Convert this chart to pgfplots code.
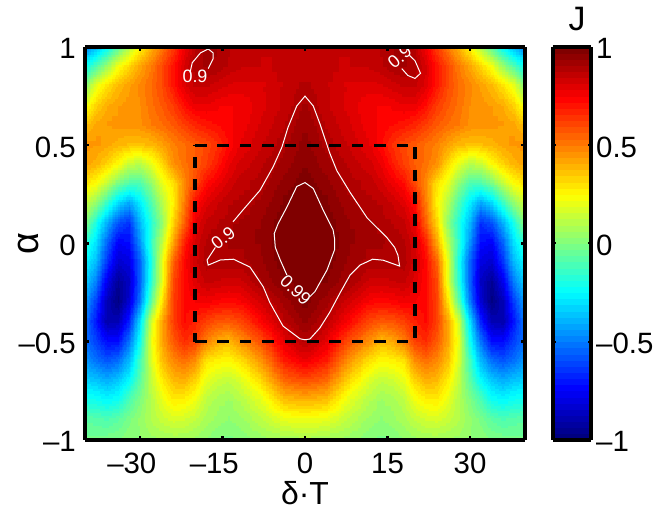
\documentclass[border=0pt]{standalone}
\usepackage{fontspec}
\setmainfont{Liberation Sans}
\usepackage{pgfplots}
\usepackage{pgfplotstable}
\usepgfplotslibrary{patchplots}
\pgfplotsset{compat=1.18}
\pgfplotsset{colormap={jet9}{rgb255(0)=(0,0,128) rgb255(1)=(0,0,255) rgb255(3)=(0,255,255) rgb255(5)=(255,255,0) rgb255(7)=(255,0,0) rgb255(8)=(128,0,0)}}
\pgfplotsset{colormap={jet64}{samples of colormap=(64 of jet9)}}
% J over the left half (the map is mirror symmetric in delta*T)
\pgfplotstableread[row sep=\\]{
x y z\\
-40 1 -.5\\ -38 1 -.4\\ -36 1 -.27\\ -34 1 -.1\\ -32 1 .08\\ -30 1 .25\\ -28 1 .38\\ -26 1 .5\\ -24 1 .62\\ -22 1 .75\\ -20 1 .87\\ -18 1 .92\\ -16 1 .9\\ -14 1 .88\\ -12 1 .86\\ -8 1 .85\\ -4 1 .86\\ 0 1 .86\\
-40 .9 -.25\\ -38 .9 -.1\\ -36 .9 .05\\ -34 .9 .22\\ -32 .9 .32\\ -30 .9 .42\\ -28 .9 .5\\ -26 .9 .6\\ -24 .9 .7\\ -22 .9 .82\\ -20 .9 .9\\ -18 .9 .91\\ -16 .9 .9\\ -14 .9 .87\\ -12 .9 .85\\ -8 .9 .84\\ -4 .9 .86\\ 0 .9 .87\\
-40 .8 0\\ -38 .8 .2\\ -36 .8 .3\\ -34 .8 .38\\ -32 .8 .43\\ -30 .8 .48\\ -28 .8 .53\\ -26 .8 .6\\ -24 .8 .7\\ -22 .8 .8\\ -20 .8 .85\\ -18 .8 .85\\ -16 .8 .83\\ -14 .8 .81\\ -12 .8 .8\\ -8 .8 .81\\ -4 .8 .85\\ 0 .8 .885\\
-40 .7 .2\\ -38 .7 .33\\ -36 .7 .4\\ -34 .7 .43\\ -32 .7 .45\\ -30 .7 .47\\ -28 .7 .52\\ -26 .7 .57\\ -24 .7 .63\\ -22 .7 .72\\ -20 .7 .78\\ -18 .7 .78\\ -16 .7 .76\\ -14 .7 .75\\ -12 .7 .75\\ -8 .7 .8\\ -4 .7 .85\\ 0 .7 .915\\
-40 .6 .36\\ -38 .6 .42\\ -36 .6 .44\\ -34 .6 .45\\ -32 .6 .45\\ -30 .6 .46\\ -28 .6 .5\\ -26 .6 .53\\ -24 .6 .57\\ -22 .6 .62\\ -20 .6 .67\\ -18 .6 .7\\ -16 .6 .72\\ -14 .6 .74\\ -12 .6 .76\\ -8 .6 .82\\ -4 .6 .87\\ 0 .6 .94\\
-40 .5 .45\\ -38 .5 .44\\ -36 .5 .42\\ -34 .5 .39\\ -32 .5 .37\\ -30 .5 .37\\ -28 .5 .38\\ -26 .5 .43\\ -24 .5 .49\\ -22 .5 .53\\ -20 .5 .57\\ -18 .5 .6\\ -16 .5 .65\\ -14 .5 .72\\ -12 .5 .78\\ -8 .5 .84\\ -4 .5 .895\\ 0 .5 .955\\
-40 .4 .43\\ -38 .4 .39\\ -36 .4 .33\\ -34 .4 .25\\ -32 .4 .14\\ -30 .4 .11\\ -28 .4 .2\\ -26 .4 .32\\ -24 .4 .46\\ -22 .4 .52\\ -20 .4 .56\\ -18 .4 .62\\ -16 .4 .69\\ -14 .4 .77\\ -12 .4 .82\\ -8 .4 .87\\ -4 .4 .92\\ 0 .4 .97\\
-40 .3 .3\\ -38 .3 .24\\ -36 .3 .12\\ -34 .3 -.02\\ -32 .3 -.1\\ -30 .3 -.1\\ -28 .3 .03\\ -26 .3 .2\\ -24 .3 .3\\ -22 .3 .47\\ -20 .3 .6\\ -18 .3 .72\\ -16 .3 .77\\ -14 .3 .82\\ -12 .3 .86\\ -8 .3 .89\\ -4 .3 .95\\ 0 .3 .99\\
-40 .2 .15\\ -38 .2 .03\\ -36 .2 -.15\\ -34 .2 -.32\\ -32 .2 -.42\\ -30 .2 -.28\\ -28 .2 -.1\\ -26 .2 .1\\ -24 .2 .27\\ -22 .2 .5\\ -20 .2 .72\\ -18 .2 .8\\ -16 .2 .84\\ -14 .2 .87\\ -12 .2 .88\\ -8 .2 .92\\ -4 .2 .975\\ 0 .2 .995\\
-40 .1 .03\\ -38 .1 -.2\\ -36 .1 -.4\\ -34 .1 -.58\\ -32 .1 -.65\\ -30 .1 -.38\\ -28 .1 -.18\\ -26 .1 .03\\ -24 .1 .33\\ -22 .1 .55\\ -20 .1 .78\\ -18 .1 .85\\ -16 .1 .87\\ -14 .1 .89\\ -12 .1 .91\\ -8 .1 .94\\ -4 .1 .99\\ 0 .1 1\\
-40 0 -.15\\ -38 0 -.3\\ -36 0 -.55\\ -34 0 -.75\\ -32 0 -.72\\ -30 0 -.45\\ -28 0 -.15\\ -26 0 .12\\ -24 0 .42\\ -22 0 .68\\ -20 0 .82\\ -18 0 .88\\ -16 0 .9\\ -14 0 .91\\ -12 0 .92\\ -8 0 .95\\ -4 0 .995\\ 0 0 1\\
-40 -.1 -.25\\ -38 -.1 -.38\\ -36 -.1 -.65\\ -34 -.1 -.83\\ -32 -.1 -.8\\ -30 -.1 -.55\\ -28 -.1 -.2\\ -26 -.1 .2\\ -24 -.1 .55\\ -22 -.1 .73\\ -20 -.1 .83\\ -18 -.1 .89\\ -16 -.1 .895\\ -14 -.1 .895\\ -12 -.1 .89\\ -8 -.1 .93\\ -4 -.1 .99\\ 0 -.1 1\\
-40 -.2 -.33\\ -38 -.2 -.5\\ -36 -.2 -.78\\ -34 -.2 -.94\\ -32 -.2 -.85\\ -30 -.2 -.55\\ -28 -.2 -.17\\ -26 -.2 .2\\ -24 -.2 .6\\ -22 -.2 .72\\ -20 -.2 .8\\ -18 -.2 .85\\ -16 -.2 .84\\ -14 -.2 .83\\ -12 -.2 .83\\ -8 -.2 .91\\ -4 -.2 .97\\ 0 -.2 .997\\
-40 -.3 -.42\\ -38 -.3 -.62\\ -36 -.3 -.88\\ -34 -.3 -.98\\ -32 -.3 -.82\\ -30 -.3 -.5\\ -28 -.3 -.07\\ -26 -.3 .3\\ -24 -.3 .62\\ -22 -.3 .72\\ -20 -.3 .75\\ -18 -.3 .76\\ -16 -.3 .74\\ -14 -.3 .73\\ -12 -.3 .74\\ -8 -.3 .83\\ -4 -.3 .92\\ 0 -.3 .988\\
-40 -.4 -.5\\ -38 -.4 -.7\\ -36 -.4 -.9\\ -34 -.4 -.88\\ -32 -.4 -.68\\ -30 -.4 -.3\\ -28 -.4 .15\\ -26 -.4 .42\\ -24 -.4 .62\\ -22 -.4 .72\\ -20 -.4 .68\\ -18 -.4 .62\\ -16 -.4 .58\\ -14 -.4 .57\\ -12 -.4 .6\\ -8 -.4 .74\\ -4 -.4 .87\\ 0 -.4 .95\\
-40 -.5 -.52\\ -38 -.5 -.62\\ -36 -.5 -.73\\ -34 -.5 -.72\\ -32 -.5 -.52\\ -30 -.5 -.22\\ -28 -.5 .2\\ -26 -.5 .42\\ -24 -.5 .57\\ -22 -.5 .66\\ -20 -.5 .62\\ -18 -.5 .5\\ -16 -.5 .42\\ -14 -.5 .38\\ -12 -.5 .46\\ -8 -.5 .6\\ -4 -.5 .79\\ 0 -.5 .895\\
-40 -.6 -.45\\ -38 -.6 -.52\\ -36 -.6 -.58\\ -34 -.6 -.53\\ -32 -.6 -.38\\ -30 -.6 -.12\\ -28 -.6 .17\\ -26 -.6 .37\\ -24 -.6 .48\\ -22 -.6 .53\\ -20 -.6 .47\\ -18 -.6 .3\\ -16 -.6 .27\\ -14 -.6 .25\\ -12 -.6 .3\\ -8 -.6 .46\\ -4 -.6 .69\\ 0 -.6 .78\\
-40 -.7 -.33\\ -38 -.7 -.36\\ -36 -.7 -.4\\ -34 -.7 -.35\\ -32 -.7 -.25\\ -30 -.7 -.07\\ -28 -.7 .13\\ -26 -.7 .28\\ -24 -.7 .38\\ -22 -.7 .4\\ -20 -.7 .33\\ -18 -.7 .2\\ -16 -.7 .15\\ -14 -.7 .13\\ -12 -.7 .17\\ -8 -.7 .33\\ -4 -.7 .54\\ 0 -.7 .6\\
-40 -.8 -.2\\ -38 -.8 -.22\\ -36 -.8 -.25\\ -34 -.8 -.22\\ -32 -.8 -.1\\ -30 -.8 0\\ -28 -.8 .1\\ -26 -.8 .2\\ -24 -.8 .28\\ -22 -.8 .27\\ -20 -.8 .22\\ -18 -.8 .12\\ -16 -.8 .08\\ -14 -.8 .06\\ -12 -.8 .1\\ -8 -.8 .2\\ -4 -.8 .37\\ 0 -.8 .4\\
-40 -.9 -.07\\ -38 -.9 -.08\\ -36 -.9 -.1\\ -34 -.9 -.07\\ -32 -.9 -.01\\ -30 -.9 .04\\ -28 -.9 .1\\ -26 -.9 .14\\ -24 -.9 .17\\ -22 -.9 .16\\ -20 -.9 .13\\ -18 -.9 .08\\ -16 -.9 .05\\ -14 -.9 .03\\ -12 -.9 .05\\ -8 -.9 .12\\ -4 -.9 .2\\ 0 -.9 .22\\
-40 -1 -.02\\ -38 -1 -.02\\ -36 -1 -.01\\ -34 -1 0\\ -32 -1 .02\\ -30 -1 .03\\ -28 -1 .05\\ -26 -1 .06\\ -24 -1 .07\\ -22 -1 .07\\ -20 -1 .05\\ -18 -1 .03\\ -16 -1 0\\ -14 -1 -.01\\ -12 -1 0\\ -8 -1 .05\\ -4 -1 .07\\ 0 -1 .08\\
}\Jtable
\begin{document}
\begin{tikzpicture}[x=1bp,y=1bp]
\useasboundingbox (0,0) rectangle (656,515);
\begin{axis}[
  at={(85bp,75bp)},anchor=south west,
  scale only axis,width=440bp,height=393bp,
  xmin=-40,xmax=40,ymin=-1,ymax=1,
  view={0}{90},
  colormap name=jet64,
  colormap access=piecewise constant,
  point meta min=-1,point meta max=1,
  axis on top,
  axis line style={line width=3.2bp},
  tick style={line width=2.5bp,black},
  tickwidth=4bp,
  xtick={-30,-15,0,15,30},
  xticklabels={\llap{–}30,\llap{–}15,0,15,30},
  ytick={-1,-0.5,0,0.5,1},
  yticklabels={–1,–0.5,0,0.5,1},
  tick align=inside,
  tick label style={font=\fontsize{29.5}{29.5}\selectfont,inner sep=0pt},
  xticklabel style={anchor=base,yshift=-34bp},
  yticklabel style={anchor=base east,xshift=-9bp,yshift=-12bp},
  xlabel={δ·T},ylabel={α},
  xlabel style={font=\fontsize{32}{32}\selectfont,at={(axis description cs:0.5,0)},anchor=base,inner sep=0pt,yshift=-65bp},
  ylabel style={font=\fontsize{38}{38}\selectfont,at={(axis description cs:0,0.5)},anchor=base,inner sep=0pt,yshift=47bp},
  colorbar,
  colorbar style={
    at={(1.0636,0)},anchor=south west,
    scale only axis,width=38bp,height=393bp,
    ytick={-1,-0.5,0,0.5,1},
    yticklabels={–1,–0.5,0,0.5,1},
    yticklabel pos=right,
    tick align=inside,
    axis line style={line width=3.2bp},
    tick style={line width=2bp,black},
    tickwidth=3bp,
    tick label style={font=\fontsize{29.5}{29.5}\selectfont,inner sep=0pt},
    yticklabel style={anchor=base west,xshift=5bp,yshift=-12bp},
    title={J},
    title style={font=\fontsize{34}{34}\selectfont,anchor=base,inner sep=0pt,at={(0.5,1)},yshift=11bp,xshift=5bp},
  },
]
\addplot3[surf,shader=interp,patch type=bilinear,mesh/ordering=x varies,mesh/cols=18] table[x=x,y=y,z=z] {\Jtable};
\addplot3[surf,shader=interp,patch type=bilinear,mesh/ordering=x varies,mesh/cols=18] table[x expr=-\thisrow{x},y=y,z=z] {\Jtable};
% contour J = 0.9, central star
\addplot[white,line width=1bp] coordinates {(-13.1,.11)(-11.3,.17)(-8.2,.27)(-5.8,.39)(-4.2,.49)(-3.1,.59)(-1.5,.70)(0,.75)(1.5,.70)(2.7,.61)(4.5,.46)(5.8,.37)(8.2,.26)(11.3,.13)(14.9,.03)(16.3,-.02)(16.9,-.06)(17.2,-.115)(14.2,-.085)(12.3,-.08)(10,-.11)(8.2,-.16)(6.4,-.25)(4.5,-.35)(2.7,-.43)(.9,-.486)(0,-.49)(-.9,-.485)(-4,-.42)(-6.4,-.30)(-7.6,-.22)(-10,-.12)(-13,-.08)(-15.4,-.084)(-17.6,-.11)(-17.8,-.084)(-16.3,-.02)};
% contour J = 0.99
\addplot[white,line width=1bp] coordinates {(-3.3,-.16)(-4.5,-.084)(-5.4,-.02)(-5.6,.05)(-4.9,.10)(-3.3,.185)(-1.5,.29)(0,.31)(1.5,.28)(3.3,.17)(5.1,.07)(5.4,.02)(5.4,-.03)(4,-.135)(1.8,-.245)(.9,-.27)};
% islands J = 0.9
\addplot[white,line width=1bp] coordinates {(-20.9,.87)(-20.5,.92)(-19,.97)(-17.6,.99)(-16.7,.97)(-16.7,.94)(-17.6,.89)};
\addplot[white,line width=1bp] coordinates {(19,.957)(20,.93)(21,.866)(20,.84)(18.7,.855)(17.6,.89)};
% dashed box
\addplot[black,line width=3.3bp,dash pattern=on 11.5bp off 10.9bp] coordinates {(-20,.5)(20,.5)};
\addplot[black,line width=3.3bp,dash pattern=on 11.5bp off 10.9bp] coordinates {(-20,-.5)(20,-.5)};
\addplot[black,line width=3.3bp,dash pattern=on 11.5bp off 10.9bp] coordinates {(20,.49)(20,-.5)};
\addplot[black,line width=3.3bp,dash pattern=on 11bp off 11bp,dash phase=10bp] coordinates {(-20,.5)(-20,-.5)};
\node[white,font=\fontsize{18}{18}\selectfont] at (axis cs:-20,.852) {0.9};
\node[white,font=\fontsize{18}{18}\selectfont,rotate=38] at (axis cs:-14.9,.028) {0.9};
\node[white,font=\fontsize{18}{18}\selectfont,rotate=-44] at (axis cs:-1.7,-.236) {0.99};
\node[white,font=\fontsize{18}{18}\selectfont,rotate=40] at (axis cs:17.2,.95) {0.9};
\end{axis}
\end{tikzpicture}
\end{document}
